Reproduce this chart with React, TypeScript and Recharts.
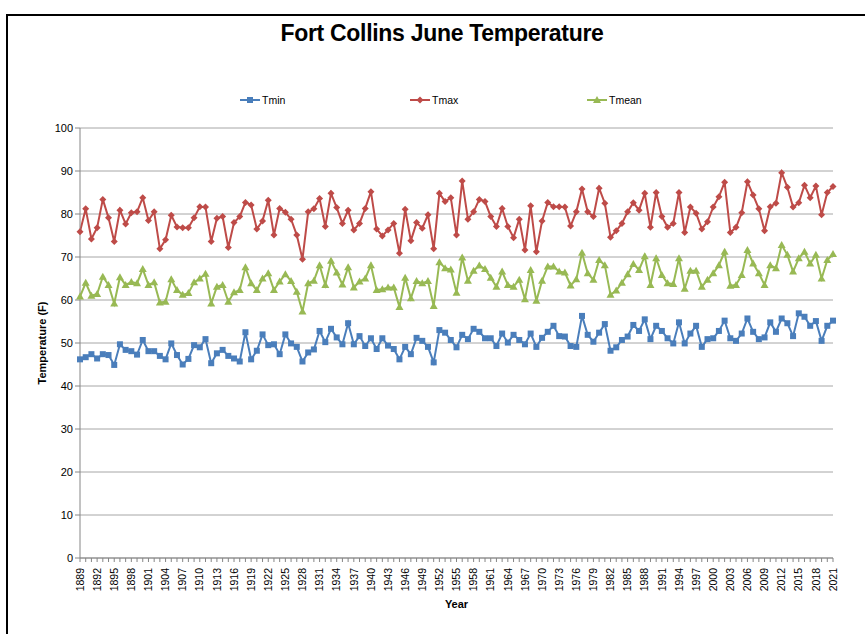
import { CartesianGrid, Line, LineChart, XAxis, YAxis } from "recharts";

const years = [
  1889, 1890, 1891, 1892, 1893, 1894, 1895, 1896, 1897, 1898,
  1899, 1900, 1901, 1902, 1903, 1904, 1905, 1906, 1907, 1908,
  1909, 1910, 1911, 1912, 1913, 1914, 1915, 1916, 1917, 1918,
  1919, 1920, 1921, 1922, 1923, 1924, 1925, 1926, 1927, 1928,
  1929, 1930, 1931, 1932, 1933, 1934, 1935, 1936, 1937, 1938,
  1939, 1940, 1941, 1942, 1943, 1944, 1945, 1946, 1947, 1948,
  1949, 1950, 1951, 1952, 1953, 1954, 1955, 1956, 1957, 1958,
  1959, 1960, 1961, 1962, 1963, 1964, 1965, 1966, 1967, 1968,
  1969, 1970, 1971, 1972, 1973, 1974, 1975, 1976, 1977, 1978,
  1979, 1980, 1981, 1982, 1983, 1984, 1985, 1986, 1987, 1988,
  1989, 1990, 1991, 1992, 1993, 1994, 1995, 1996, 1997, 1998,
  1999, 2000, 2001, 2002, 2003, 2004, 2005, 2006, 2007, 2008,
  2009, 2010, 2011, 2012, 2013, 2014, 2015, 2016, 2017, 2018,
  2019, 2020, 2021,
];

const tmin = [
  46.2, 46.7, 47.4, 46.4, 47.4, 47.2, 44.9, 49.7, 48.4, 48.1,
  47.3, 50.7, 48.1, 48.1, 47.0, 46.2, 49.9, 47.2, 45.0, 46.3,
  49.5, 49.0, 50.9, 45.3, 47.6, 48.4, 47.0, 46.4, 45.7, 52.5,
  46.2, 48.2, 52.0, 49.5, 49.7, 47.4, 52.0, 49.9, 49.1, 45.7,
  47.8, 48.5, 52.8, 50.2, 53.3, 51.3, 49.7, 54.6, 49.7, 51.6,
  49.3, 51.1, 48.6, 51.1, 49.4, 48.6, 46.2, 49.1, 47.4, 51.2,
  50.5, 49.1, 45.5, 53.0, 52.4, 50.7, 49.0, 51.9, 50.9, 53.3,
  52.6, 51.1, 51.1, 49.3, 52.2, 50.1, 51.9, 50.7, 49.7, 52.2,
  49.1, 51.2, 52.6, 54.0, 51.6, 51.5, 49.3, 49.1, 56.3, 51.9,
  50.3, 52.4, 54.4, 48.2, 49.0, 50.7, 51.5, 54.2, 52.8, 55.5,
  50.9, 54.0, 52.8, 51.1, 49.9, 54.8, 49.9, 52.2, 54.0, 49.1,
  50.9, 51.1, 52.8, 55.2, 51.1, 50.5, 52.2, 55.7, 52.6, 50.9,
  51.3, 54.8, 52.6, 55.7, 54.6, 51.6, 56.9, 56.1, 54.0, 55.1,
  50.5, 54.0, 55.2,
];

const tmax = [
  75.9, 81.2, 74.2, 76.8, 83.4, 79.1, 73.6, 80.9, 77.7, 80.3,
  80.5, 83.8, 78.5, 80.5, 71.9, 74.0, 79.7, 77.0, 76.8, 76.8,
  79.1, 81.7, 81.6, 73.6, 79.0, 79.4, 72.2, 78.0, 79.4, 82.7,
  82.1, 76.5, 78.4, 83.2, 75.1, 81.3, 80.4, 78.8, 75.1, 69.5,
  80.5, 81.2, 83.6, 77.1, 84.8, 81.5, 77.8, 80.9, 76.3, 77.8,
  81.3, 85.2, 76.5, 74.9, 76.3, 77.8, 70.9, 81.1, 73.8, 78.0,
  76.7, 79.8, 71.9, 84.8, 82.9, 83.8, 75.1, 87.7, 78.8, 80.5,
  83.4, 82.9, 79.4, 77.1, 81.3, 77.1, 74.5, 78.8, 71.6, 81.9,
  71.2, 78.4, 82.7, 81.7, 81.7, 81.6, 77.2, 80.5, 85.8, 80.5,
  79.4, 86.0, 82.5, 74.6, 76.1, 77.8, 80.5, 82.6, 80.9, 84.8,
  76.9, 85.0, 79.4, 76.9, 77.8, 85.0, 75.7, 81.6, 80.2, 76.5,
  78.2, 81.6, 84.0, 87.4, 75.7, 76.9, 80.3, 87.5, 84.4, 81.2,
  76.1, 81.7, 82.5, 89.6, 86.2, 81.6, 82.6, 86.7, 83.8, 86.5,
  79.8, 85.0, 86.4,
];

const tmean = [
  60.8, 64.0, 61.0, 61.4, 65.4, 63.5, 59.2, 65.3, 63.5, 64.2,
  63.9, 67.2, 63.5, 64.1, 59.4, 59.6, 64.8, 62.3, 61.2, 61.6,
  64.1, 65.0, 66.1, 59.2, 63.1, 63.5, 59.6, 61.8, 62.3, 67.6,
  63.9, 62.3, 65.0, 66.2, 62.3, 64.3, 66.0, 64.4, 61.9, 57.3,
  63.9, 64.5, 68.1, 63.5, 69.1, 66.4, 63.6, 67.6, 62.9, 64.3,
  65.0, 68.1, 62.3, 62.5, 62.9, 62.9, 58.4, 65.2, 60.4, 64.4,
  63.9, 64.4, 58.6, 68.8, 67.4, 67.1, 61.7, 69.9, 64.5, 66.8,
  68.0, 67.2, 65.2, 63.1, 66.6, 63.5, 63.1, 64.7, 60.2, 67.0,
  59.8, 64.5, 67.8, 67.8, 66.6, 66.4, 63.4, 64.8, 71.0, 66.2,
  64.7, 69.3, 68.1, 61.2, 62.2, 64.0, 66.0, 68.4, 67.0, 70.2,
  63.5, 69.7, 65.8, 63.9, 63.7, 69.7, 62.6, 66.8, 66.8, 63.1,
  64.7, 66.2, 68.1, 71.2, 63.3, 63.5, 65.8, 71.6, 68.5, 66.2,
  63.5, 68.1, 67.4, 72.8, 70.5, 66.6, 69.7, 71.2, 68.5, 70.5,
  65.0, 69.3, 70.7,
];

const yTicks = [0, 10, 20, 30, 40, 50, 60, 70, 80, 90, 100];

const BLUE = "#4a7ebb";
const RED = "#be4b48";
const GREEN = "#98b954";

const data = years.map((y, i) => ({
  year: String(y),
  Tmin: tmin[i],
  Tmax: tmax[i],
  Tmean: tmean[i],
}));

const SquareDot = (p: any) => (
  <rect key={p.key} x={p.cx - 3} y={p.cy - 3} width={6} height={6} fill={BLUE} />
);

const DiamondDot = (p: any) => (
  <polygon
    key={p.key}
    points={`${p.cx},${p.cy - 3.5} ${p.cx + 3.5},${p.cy} ${p.cx},${p.cy + 3.5} ${p.cx - 3.5},${p.cy}`}
    fill={RED}
  />
);

const TriangleDot = (p: any) => (
  <polygon
    key={p.key}
    points={`${p.cx},${p.cy - 4} ${p.cx + 4},${p.cy + 3} ${p.cx - 4},${p.cy + 3}`}
    fill={GREEN}
  />
);

const YearTick = (p: any) => {
  if (p.index % 3 !== 0) return null;
  return (
    <g transform={`translate(${p.x},${p.y + 4})`}>
      <text
        transform="rotate(-90)"
        textAnchor="end"
        dy="0.35em"
        fontSize={10.5}
        fill="#000"
        fontFamily="Liberation Sans, Arial, sans-serif"
      >
        {p.payload.value}
      </text>
    </g>
  );
};

const legendItems = [
  { name: "Tmin", color: BLUE, x: 240, shape: "square" },
  { name: "Tmax", color: RED, x: 410, shape: "diamond" },
  { name: "Tmean", color: GREEN, x: 587, shape: "triangle" },
];

function LegendIcon({ color, shape }: { color: string; shape: string }) {
  return (
    <svg width={20} height={10} style={{ display: "block" }}>
      <line x1={0} y1={5} x2={20} y2={5} stroke={color} strokeWidth={2} />
      {shape === "square" && <rect x={7} y={2} width={6} height={6} fill={color} />}
      {shape === "diamond" && <polygon points="10,1.5 13.5,5 10,8.5 6.5,5" fill={color} />}
      {shape === "triangle" && <polygon points="10,1 14,8 6,8" fill={color} />}
    </svg>
  );
}

export default function App() {
  return (
    <div
      style={{
        position: "relative",
        width: 865,
        height: 634,
        overflow: "hidden",
        background: "#fff",
        fontFamily: "Liberation Sans, Arial, sans-serif",
      }}
    >
      <style>{"body{margin:0}"}</style>
      <div
        style={{
          position: "absolute",
          left: 6,
          top: 14,
          width: 900,
          height: 700,
          border: "2px solid #000",
        }}
      />
      <div
        style={{
          position: "absolute",
          left: 0,
          top: 20,
          width: 884,
          textAlign: "center",
          fontSize: 23,
          fontWeight: "bold",
          letterSpacing: -0.3,
          color: "#000",
        }}
      >
        Fort Collins June Temperature
      </div>
      {legendItems.map((it) => (
        <div
          key={it.name}
          style={{
            position: "absolute",
            left: it.x,
            top: 94,
            display: "flex",
            alignItems: "center",
            fontSize: 10.5,
            color: "#000",
          }}
        >
          <LegendIcon color={it.color} shape={it.shape} />
          <span style={{ marginLeft: 2 }}>{it.name}</span>
        </div>
      ))}
      <div style={{ position: "absolute", left: 0, top: 0 }}>
        <LineChart
          width={865}
          height={634}
          data={data}
          margin={{ top: 128, right: 32, bottom: 16, left: 4 }}
        >
          <CartesianGrid vertical={false} stroke="#a6a6a6" />
          <XAxis
            dataKey="year"
            interval={0}
            tick={<YearTick />}
            tickSize={4}
            tickLine={{ stroke: "#868686" }}
            axisLine={{ stroke: "#868686" }}
            height={60}
            label={{
              value: "Year",
              position: "insideBottom",
              offset: 10,
              fontSize: 11,
              fontWeight: "bold",
              fill: "#000",
            }}
          />
          <XAxis
            xAxisId="top"
            orientation="top"
            dataKey="year"
            height={0}
            tick={false}
            tickLine={false}
            axisLine={{ stroke: "#9bbbe0" }}
          />
          <YAxis
            domain={[0, 100]}
            ticks={yTicks}
            width={76}
            tickSize={5}
            tickLine={{ stroke: "#868686" }}
            axisLine={{ stroke: "#868686" }}
            tick={{ fontSize: 11, fill: "#000" }}
            label={{
              value: "Temperature (F)",
              angle: -90,
              position: "center",
              fontSize: 11,
              fontWeight: "bold",
              fill: "#000",
            }}
          />
          <YAxis
            yAxisId="right"
            orientation="right"
            width={0}
            tick={false}
            tickLine={false}
            axisLine={{ stroke: "#9bbbe0" }}
          />
          <Line
            dataKey="Tmin"
            stroke={BLUE}
            strokeWidth={2}
            dot={SquareDot}
            activeDot={false}
            isAnimationActive={false}
          />
          <Line
            dataKey="Tmax"
            stroke={RED}
            strokeWidth={2}
            dot={DiamondDot}
            activeDot={false}
            isAnimationActive={false}
          />
          <Line
            dataKey="Tmean"
            stroke={GREEN}
            strokeWidth={2}
            dot={TriangleDot}
            activeDot={false}
            isAnimationActive={false}
          />
        </LineChart>
      </div>
    </div>
  );
}
